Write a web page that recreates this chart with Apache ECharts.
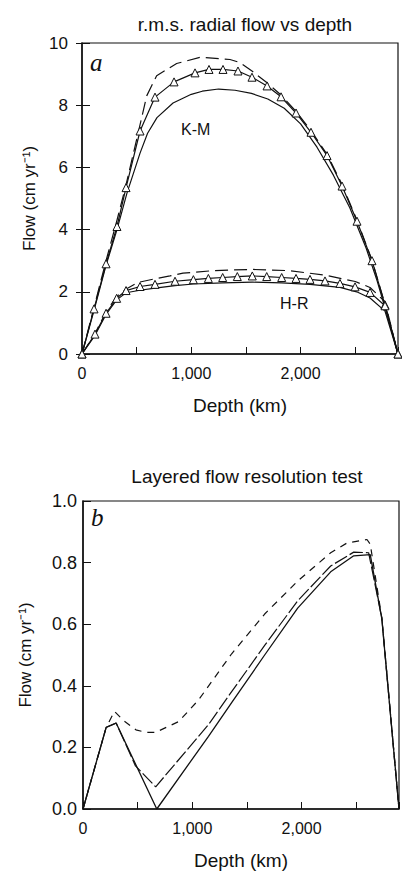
<!DOCTYPE html>
<html>
<head>
<meta charset="utf-8">
<style>
  html, body { margin: 0; padding: 0; background: #fff; }
  #chart { width: 402px; height: 871px; }
</style>
<script src="https://cdn.jsdelivr.net/npm/echarts@6/dist/echarts.min.js"></script>
</head>
<body>
<div id="chart"></div>
<script>
// panel a: K-M model
var kmTriDepth = [0, 110, 220, 320, 403, 531, 668, 842, 1034, 1162, 1290, 1427, 1555, 1693, 1821, 1958, 2095, 2242, 2379, 2516, 2653, 2772, 2891];
var kmTriFlow = [0, 1.45, 2.9, 4.1, 5.35, 7.17, 8.26, 8.75, 9.04, 9.15, 9.15, 9.1, 8.9, 8.62, 8.27, 7.75, 7.13, 6.38, 5.4, 4.27, 3.0, 1.58, 0];
var kmDashDepth = [0, 110, 220, 320, 400, 500, 592, 683, 866, 1080, 1354, 1445, 1555, 1693, 1821, 1958, 2095, 2242, 2379, 2516, 2653, 2772, 2891];
var kmDashFlow = [0, 1.5, 3.0, 4.3, 5.4, 6.9, 8.3, 8.95, 9.34, 9.54, 9.47, 9.37, 9.1, 8.72, 8.33, 7.8, 7.18, 6.42, 5.45, 4.3, 3.02, 1.6, 0];
var kmLowDepth = [0, 110, 220, 320, 412, 531, 600, 686, 833, 1000, 1100, 1250, 1400, 1550, 1700, 1850, 2000, 2150, 2300, 2400, 2450, 2600, 2700, 2800, 2891];
var kmLowFlow = [0, 1.4, 2.85, 4.0, 5.18, 6.46, 7.1, 7.6, 8.07, 8.35, 8.45, 8.52, 8.48, 8.38, 8.2, 7.9, 7.4, 6.65, 5.75, 5.05, 4.7, 3.4, 2.35, 1.15, 0];

// panel a: H-R model
var hrTriDepth = [0, 119, 220, 317, 403, 531, 668, 851, 1019, 1156, 1287, 1421, 1558, 1690, 1827, 1958, 2086, 2223, 2360, 2498, 2635, 2772, 2891];
var hrTriFlow = [0, 0.64, 1.31, 1.79, 2.04, 2.17, 2.24, 2.34, 2.39, 2.43, 2.46, 2.49, 2.51, 2.49, 2.46, 2.43, 2.4, 2.35, 2.27, 2.16, 1.98, 1.55, 0];
var hrDashDepth = [0, 119, 220, 317, 409, 512, 668, 805, 924, 1200, 1550, 1900, 2250, 2500, 2635, 2772, 2891];
var hrDashFlow = [0, 0.66, 1.35, 1.85, 2.1, 2.3, 2.42, 2.51, 2.6, 2.68, 2.72, 2.68, 2.52, 2.33, 2.14, 1.68, 0];
var hrLowDepth = [0, 119, 220, 317, 403, 531, 668, 851, 1019, 1287, 1558, 1827, 2086, 2360, 2513, 2635, 2772, 2891];
var hrLowFlow = [0, 0.6, 1.27, 1.74, 1.97, 2.05, 2.12, 2.2, 2.25, 2.29, 2.31, 2.29, 2.24, 2.14, 2.0, 1.8, 1.38, 0];

// panel b: layered flow test
var bSolidDepth = [0, 212, 303, 675, 1148, 1360, 1662, 1964, 2266, 2477, 2628, 2734, 2891];
var bSolidFlow = [0, 0.265, 0.279, 0, 0.236, 0.345, 0.5, 0.652, 0.77, 0.822, 0.826, 0.617, 0];
var bLongDepth = [0, 212, 303, 480, 665, 1148, 1360, 1662, 1964, 2266, 2477, 2613, 2734, 2891];
var bLongFlow = [0, 0.265, 0.279, 0.14, 0.072, 0.274, 0.381, 0.531, 0.676, 0.789, 0.834, 0.832, 0.62, 0];
var bShortDepth = [0, 212, 287, 378, 484, 574, 665, 876, 1057, 1360, 1662, 1964, 2266, 2417, 2598, 2628, 2734, 2891];
var bShortFlow = [0, 0.265, 0.317, 0.285, 0.257, 0.249, 0.249, 0.284, 0.354, 0.504, 0.633, 0.74, 0.832, 0.864, 0.875, 0.86, 0.62, 0];

var depthMax = 2891;

function zip(xs, ys) {
  return xs.map(function (x, i) { return [x, ys[i]]; });
}

var font = 'Liberation Sans, Arial, sans-serif';

function line(name, xs, ys, xi, yi, dash, width) {
  return {
    name: name,
    type: 'line',
    xAxisIndex: xi,
    yAxisIndex: yi,
    data: zip(xs, ys),
    showSymbol: false,
    symbol: 'none',
    lineStyle: { color: '#111', width: width || 1.2, type: dash || 'solid' },
    z: 3,
  };
}

function triLine(name, xs, ys) {
  return {
    name: name,
    type: 'line',
    xAxisIndex: 0,
    yAxisIndex: 0,
    data: zip(xs, ys),
    symbol: 'triangle',
    symbolSize: 8,
    itemStyle: { color: '#fff', borderColor: '#111', borderWidth: 1 },
    lineStyle: { color: '#111', width: 1.2 },
    z: 4,
  };
}

function xAxisOf(gi) {
  return {
    type: 'value',
    gridIndex: gi,
    min: 0,
    max: depthMax,
    interval: 500,
    name: 'Depth (km)',
    nameLocation: 'middle',
    nameGap: 42,
    nameTextStyle: { color: '#111', fontSize: 19, fontFamily: font },
    axisLine: { lineStyle: { color: '#111', width: 1.5 } },
    axisTick: { inside: true, length: 7, lineStyle: { color: '#111' } },
    axisLabel: {
      color: '#111',
      fontSize: 16,
      fontFamily: font,
      margin: 11,
      formatter: function (v) {
        return v % 1000 === 0 ? v.toLocaleString('en-US') : '';
      },
    },
    splitLine: { show: false },
  };
}

var chart = echarts.init(document.getElementById('chart'), null, { renderer: 'svg' });

chart.setOption({
  backgroundColor: '#fff',
  animation: false,
  title: [
    {
      text: 'r.m.s. radial flow vs depth',
      left: 240, top: 10, textAlign: 'center',
      textStyle: { color: '#111', fontSize: 19, fontWeight: 'normal', fontFamily: font },
    },
    {
      text: 'Layered flow resolution test',
      left: 242, top: 462, textAlign: 'center',
      textStyle: { color: '#111', fontSize: 19, fontWeight: 'normal', fontFamily: font },
    },
  ],
  grid: [
    { left: 82, top: 43, width: 316, height: 311, show: true, borderColor: '#111', borderWidth: 1.2 },
    { left: 83, top: 501, width: 318, height: 311, show: true, borderColor: '#111', borderWidth: 1.2 },
  ],
  xAxis: [xAxisOf(0), xAxisOf(1)],
  yAxis: [
    {
      type: 'value', gridIndex: 0, min: 0, max: 10, interval: 2,
      name: 'Flow (cm yr⁻¹)', nameLocation: 'middle', nameGap: 40,
      nameTextStyle: { color: '#111', fontSize: 17, fontFamily: font },
      axisLine: { lineStyle: { color: '#111', width: 1.5 } },
      axisTick: { inside: true, length: 8, lineStyle: { color: '#111' } },
      axisLabel: { color: '#111', fontSize: 17, fontFamily: font, margin: 14 },
      splitLine: { show: false },
    },
    {
      type: 'value', gridIndex: 0, min: 0, max: 10, interval: 2, position: 'left',
      axisLine: { show: false },
      axisTick: { inside: false, length: 6, lineStyle: { color: '#111' } },
      axisLabel: { show: false },
      splitLine: { show: false },
    },
    {
      type: 'value', gridIndex: 1, min: 0, max: 1, interval: 0.2,
      name: 'Flow (cm yr⁻¹)', nameLocation: 'middle', nameGap: 49,
      nameTextStyle: { color: '#111', fontSize: 17, fontFamily: font },
      axisLine: { lineStyle: { color: '#111', width: 1.5 } },
      axisTick: { inside: true, length: 8, lineStyle: { color: '#111' } },
      axisLabel: {
        color: '#111', fontSize: 18, fontFamily: font, margin: 6,
        formatter: function (v) { return v.toFixed(1); },
      },
      splitLine: { show: false },
    },
  ],
  graphic: [
    { type: 'text', left: 90, top: 50, style: { text: 'a', fill: '#111', font: 'italic 25px "Liberation Serif", serif' } },
    { type: 'text', left: 91, top: 505, style: { text: 'b', fill: '#111', font: 'italic 25px "Liberation Serif", serif' } },
    { type: 'text', left: 181, top: 121, style: { text: 'K-M', fill: '#111', font: '16px "Liberation Sans", Arial, sans-serif' } },
    { type: 'text', left: 280, top: 295, style: { text: 'H-R', fill: '#111', font: '16px "Liberation Sans", Arial, sans-serif' } },
  ],
  series: [
    line('K-M dashed', kmDashDepth, kmDashFlow, 0, 0, [13, 6]),
    triLine('K-M', kmTriDepth, kmTriFlow),
    line('K-M lower', kmLowDepth, kmLowFlow, 0, 0),
    line('H-R dashed', hrDashDepth, hrDashFlow, 0, 0, [13, 6]),
    triLine('H-R', hrTriDepth, hrTriFlow),
    line('H-R lower', hrLowDepth, hrLowFlow, 0, 0),
    line('b solid', bSolidDepth, bSolidFlow, 1, 2, 'solid', 1.3),
    line('b long dash', bLongDepth, bLongFlow, 1, 2, [14, 3], 1.2),
    line('b short dash', bShortDepth, bShortFlow, 1, 2, [7, 6], 1.2),
  ],
});
</script>
</body>
</html>
